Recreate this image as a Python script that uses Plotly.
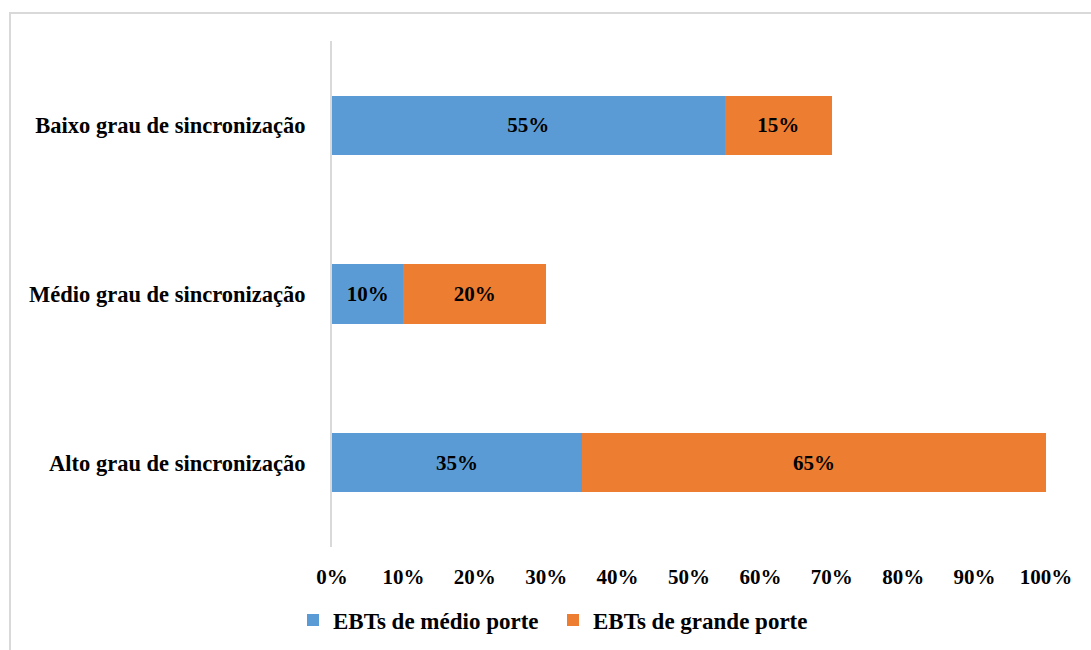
import plotly.graph_objects as go

categories = ["Alto grau de sincronização", "Médio grau de sincronização", "Baixo grau de sincronização"]
medio = [35, 10, 55]
grande = [65, 20, 15]
series_names = ["EBTs de médio porte", "EBTs de grande porte"]
tick_vals = [0, 10, 20, 30, 40, 50, 60, 70, 80, 90, 100]
tick_text = ["0%", "10%", "20%", "30%", "40%", "50%", "60%", "70%", "80%", "90%", "100%"]

FONT = "Liberation Serif"
W, H = 1091, 650
L, R, T, B = 332, 45, 41, 103
pw, ph = W - L - R, H - T - B

def px(x):
    return (x - L) / pw

def py(y):
    return (H - B - y) / ph

fig = go.Figure()
for name, vals, color in [(series_names[0], medio, "#5B9BD5"), (series_names[1], grande, "#ED7D31")]:
    fig.add_trace(go.Bar(
        y=categories, x=vals, name=name, orientation="h",
        marker=dict(color=color, line=dict(width=0)),
        text=[f"{v}%" for v in vals], textposition="inside",
        insidetextanchor="middle",
        textfont=dict(family=FONT, size=21, color="black", weight="bold"),
        hoverinfo="skip",
    ))

fig.update_layout(
    barmode="stack", bargap=0.65,
    width=W, height=H,
    margin=dict(l=L, r=R, t=T, b=B, autoexpand=False),
    plot_bgcolor="white", paper_bgcolor="white",
    font=dict(family=FONT, size=21, color="black", weight="bold"),
    xaxis=dict(range=[0, 100], tickvals=tick_vals, ticktext=tick_text,
               showgrid=False, zeroline=False, showline=False, ticks="",
               ticklabelstandoff=15,
               tickfont=dict(family=FONT, size=21, color="black", weight="bold")),
    yaxis=dict(showgrid=False, zeroline=False, showline=True, linecolor="#d9d9d9",
               linewidth=2, ticks="", ticklabelstandoff=20,
               tickfont=dict(family=FONT, size=22.5, color="black", weight="bold")),
    legend=dict(orientation="h", x=px(293), xanchor="left", y=py(620), yanchor="middle",
                font=dict(family=FONT, size=23, color="black", weight="bold"),
                traceorder="normal", itemwidth=30, entrywidth=215),
    showlegend=True,
    shapes=[dict(type="rect", xref="paper", yref="paper",
                 x0=px(10), x1=px(1100), y0=py(660), y1=py(13),
                 line=dict(color="#d9d9d9", width=2), fillcolor="rgba(0,0,0,0)", layer="below")],
)

fig.write_html("out.html")
